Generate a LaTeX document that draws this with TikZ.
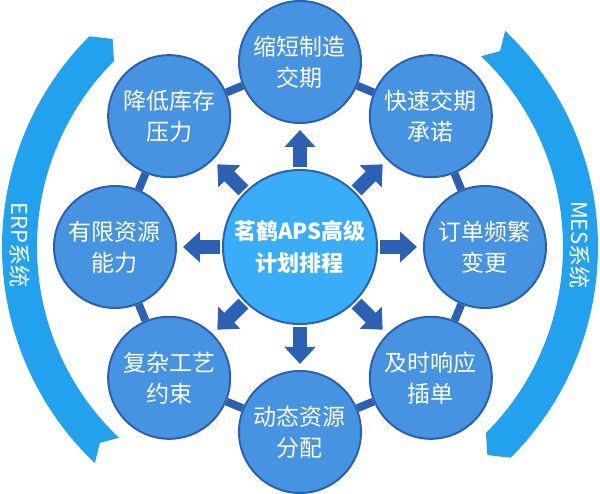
\documentclass[tikz,border=0pt]{standalone}
\usepackage{fontspec}
\setmainfont{Noto Sans CJK SC}
\usetikzlibrary{arrows.meta}
\definecolor{cellblue}{RGB}{69,147,225}
\definecolor{edgeblue}{RGB}{44,96,178}
\definecolor{hubblue}{RGB}{57,173,247}
\definecolor{bandblue}{RGB}{34,161,238}
\begin{document}
\begin{tikzpicture}[x=1pt, y=1pt,
      cell/.style={circle, draw=edgeblue, line width=2pt, fill=cellblue,
                   minimum size=122pt, inner sep=0pt, align=center, text=white,
                   font=\fontsize{23}{31}\selectfont},              % one circle per goal
      hub/.style={cell, fill=hubblue, minimum size=154pt,
                  font=\fontsize{22}{32}\selectfont\bfseries},      % the centre circle
      ring/.style={draw=edgeblue, line width=8pt},                  % links round the ring
      blk/.style={draw=edgeblue, line width=14pt,
                  -{Triangle[length=17pt, width=30pt]},
                  shorten <=2pt, shorten >=6pt},                    % block arrows
      band/.style={fill=bandblue},
      bandtext/.style={text=white, rotate=-90, font=\fontsize{22}{26}\selectfont}]
    \useasboundingbox (-300,-247) rectangle (300,247);
    % side bands
    \fill[band] (135:298) -- (132:280) -- (135:263)
      arc[start angle=135, end angle=226.5, radius=263] -- (224.4:280) -- (226.5:298)
      arc[start angle=226.5, end angle=135, radius=298] -- cycle;
    \fill[band] (-45:298) -- (-48:280) -- (-45:263)
      arc[start angle=-45, end angle=46.5, radius=263] -- (44.4:280) -- (46.5:298)
      arc[start angle=46.5, end angle=-45, radius=298] -- cycle;
    \node[bandtext] (erp) at (-280,2) {ERP系统};
    \node[bandtext] (mes) at (280,2)  {MES系统};
    \node[hub]  (aps)      at (0,0)     {茗鹤APS高级\\计划排程};
    \node[cell] (leadtime) at (90:185)  {缩短制造\\交期};
    \node[cell] (stock)    at (135:185) {降低库存\\压力};
    \node[cell] (capacity) at (180:185) {有限资源\\能力};
    \node[cell] (process)  at (225:185) {复杂工艺\\约束};
    \node[cell] (dispatch) at (270:185) {动态资源\\分配};
    \node[cell] (insert)   at (315:185) {及时响应\\插单};
    \node[cell] (change)   at (0:185)   {订单频繁\\变更};
    \node[cell] (promise)  at (45:185)  {快速交期\\承诺};
    \foreach \a/\b in {leadtime/stock, stock/capacity, capacity/process, process/dispatch,
                       dispatch/insert, insert/change, change/promise, promise/leadtime}
      \draw[ring] (\a) -- (\b);                                     % ring between neighbours
    \foreach \b in {leadtime, stock, capacity, process, dispatch, insert, change, promise}
      \draw[blk] (aps) -- (\b);                                     % out from the centre
  \end{tikzpicture}
\end{document}
